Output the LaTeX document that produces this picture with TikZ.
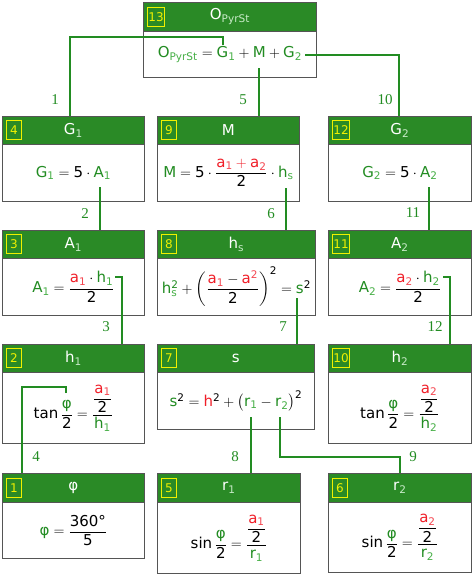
\documentclass[tikz,border=0pt]{standalone}
\usepackage{amsmath}
\usepackage{fontspec}
\setmainfont{DejaVu Sans}
\newfontfamily\lblfont{Liberation Serif}
\definecolor{hdrgreen}{RGB}{42,138,38}
\definecolor{lnGreen}{RGB}{34,140,34}
\definecolor{vgr}{RGB}{34,140,34}
\definecolor{vgrl}{RGB}{70,175,70}
\definecolor{vred}{RGB}{240,30,40}
\definecolor{vredl}{RGB}{245,70,80}
\definecolor{brd}{RGB}{85,85,85}
\definecolor{badgey}{RGB}{240,240,0}
\definecolor{hsub}{RGB}{200,235,200}
\newcommand{\vG}[1]{{\color{vgr}\text{#1}}}
\newcommand{\vR}[1]{{\color{vred}\text{#1}}}
\newcommand{\sG}[1]{{\color{vgrl}\text{#1}}}
\newcommand{\sR}[1]{{\color{vredl}\text{#1}}}
\newcommand{\tK}[1]{\text{#1}}
\newcommand{\hT}[2]{$\text{#1}_{\color{hsub}\text{#2}}$}
\newcommand{\fsz}{\fontsize{15}{18}\selectfont}
\tikzset{
  hdr/.style={draw=brd, line width=0.8pt, fill=hdrgreen, text=white, font=\fsz, inner sep=0pt},
  bodybox/.style={draw=brd, line width=0.8pt, fill=white, inner sep=0pt},
  badge/.style={draw=badgey, line width=0.9pt, text=badgey, font=\fontsize{12}{14}\selectfont, inner sep=1pt, minimum height=19pt, minimum width=15pt, xshift=4pt},
  formula/.style={font=\fsz, inner sep=0pt},
  conn/.style={draw=lnGreen, line width=1.6pt},
  lbl/.style={font=\fontsize{15}{18}\selectfont\lblfont, text=lnGreen, inner sep=0pt}
}
\newcommand{\mkbox}[9]{%
  \node[hdr, minimum width={#3-#2}, minimum height={#5-#4}, anchor=north west] (#1h) at (#2,#4) {#8};
  \node[bodybox, minimum width={#3-#2}, minimum height={#6-#5}, anchor=north west] (#1b) at (#2,#5) {};
  \node[badge, anchor=west] (#1n) at (#1h.west) {#7};
  \node[formula] (#1f) at (#1b.center) {#9};
}
\begin{document}
\begin{tikzpicture}[x=1pt,y=-1pt]
\useasboundingbox (0,0) rectangle (473,574);
% top
\mkbox{o}{143}{316}{2}{31}{77}{13}{\hT{O}{PyrSt}}{$\vG{O}_{\sG{PyrSt}} = \vG{G}_{\sG{1}} + \vG{M} + \vG{G}_{\sG{2}}$}
% row 1
\mkbox{g1}{2}{144}{116}{144}{201}{4}{\hT{G}{1}}{$\vG{G}_{\sG{1}} = \tK{5}\cdot\vG{A}_{\sG{1}}$}
\mkbox{m}{157}{299}{116}{144}{201}{9}{M}{$\vG{M} = \tK{5}\cdot\dfrac{\vR{a}_{\sR{1}} \mathbin{\color{vred}+} \vR{a}_{\sR{2}}}{\tK{2}}\cdot\vG{h}_{\sG{s}}$}
\mkbox{g2}{328}{471}{116}{144}{201}{12}{\hT{G}{2}}{$\vG{G}_{\sG{2}} = \tK{5}\cdot\vG{A}_{\sG{2}}$}
% row 2
\mkbox{a1}{2}{144}{230}{258}{315}{3}{\hT{A}{1}}{$\vG{A}_{\sG{1}} = \dfrac{\vR{a}_{\sR{1}}\cdot\vG{h}_{\sG{1}}}{\tK{2}}$}
\mkbox{hs}{157}{315}{230}{258}{315}{8}{\hT{h}{s}}{$\vG{h}_{\sG{s}}^{\vG{2}} + \left(\dfrac{\vR{a}_{\sR{1}} - \vR{a}^{\sR{2}}}{\tK{2}}\right)^{\tK{2}} = \vG{s}^{\tK{2}}$}
\mkbox{a2}{328}{471}{230}{258}{315}{11}{\hT{A}{2}}{$\vG{A}_{\sG{2}} = \dfrac{\vR{a}_{\sR{2}}\cdot\vG{h}_{\sG{2}}}{\tK{2}}$}
% row 3
\mkbox{h1}{2}{144}{344}{372}{443}{2}{\hT{h}{1}}{$\tK{tan}\,\dfrac{\vG{φ}}{\tK{2}} = \dfrac{\dfrac{\vR{a}_{\sR{1}}}{\tK{2}}}{\vG{h}_{\sG{1}}}$}
\mkbox{s}{157}{314}{344}{372}{429}{7}{s}{$\vG{s}^{\tK{2}} = \vR{h}^{\tK{2}} + \bigl(\vG{r}_{\sG{1}} - \vG{r}_{\sG{2}}\bigr)^{\tK{2}}$}
\mkbox{h2}{328}{471}{344}{372}{443}{10}{\hT{h}{2}}{$\tK{tan}\,\dfrac{\vG{φ}}{\tK{2}} = \dfrac{\dfrac{\vR{a}_{\sR{2}}}{\tK{2}}}{\vG{h}_{\sG{2}}}$}
% row 4
\mkbox{phi}{2}{144}{473}{502}{558}{1}{φ}{$\vG{φ} = \dfrac{\tK{360°}}{\tK{5}}$}
\mkbox{r1}{157}{300}{473}{502}{573}{5}{\hT{r}{1}}{$\tK{sin}\,\dfrac{\vG{φ}}{\tK{2}} = \dfrac{\dfrac{\vR{a}_{\sR{1}}}{\tK{2}}}{\vG{r}_{\sG{1}}}$}
\mkbox{r2}{328}{471}{473}{502}{572}{6}{\hT{r}{2}}{$\tK{sin}\,\dfrac{\vG{φ}}{\tK{2}} = \dfrac{\dfrac{\vR{a}_{\sR{2}}}{\tK{2}}}{\vG{r}_{\sG{2}}}$}
% connectors
\coordinate (s1) at (223,45); \coordinate (k1) at (70,37);
\draw[conn] (s1) |- (k1) -- (k1 |- g1h.north);
\coordinate (s5) at (259,68);
\draw[conn] (s5) -- (s5 |- mh.north);
\coordinate (s10) at (305,55); \coordinate (k10) at (399,55);
\draw[conn] (s10) -- (k10) -- (k10 |- g2h.north);
\coordinate (s2) at (100,187);
\draw[conn] (s2) -- (s2 |- a1h.north);
\coordinate (s6) at (286,188);
\draw[conn] (s6) -- (s6 |- hsh.north);
\coordinate (s11) at (429,187);
\draw[conn] (s11) -- (s11 |- a2h.north);
\coordinate (s3) at (115,277); \coordinate (k3) at (122,277);
\draw[conn] (s3) -- (k3) -- (k3 |- h1h.north);
\coordinate (s7) at (297,298);
\draw[conn] (s7) -- (s7 |- sh.north);
\coordinate (s12) at (443,277); \coordinate (k12) at (450,277);
\draw[conn] (s12) -- (k12) -- (k12 |- h2h.north);
\coordinate (s4) at (66,393); \coordinate (k4) at (22,387);
\draw[conn] (s4) |- (k4) -- (k4 |- phih.north);
\coordinate (s8) at (251,417);
\draw[conn] (s8) -- (s8 |- r1h.north);
\coordinate (s9) at (280,417); \coordinate (k9) at (400,457);
\draw[conn] (s9) |- (k9) -- (k9 |- r2h.north);
% labels
\node[lbl] (l1) at (55,100) {1};
\node[lbl] (l5) at (243,100) {5};
\node[lbl] (l10) at (385,100) {10};
\node[lbl] (l2) at (85,214) {2};
\node[lbl] (l6) at (271,214) {6};
\node[lbl] (l11) at (413,213) {11};
\node[lbl] (l3) at (106,327) {3};
\node[lbl] (l7) at (283,327) {7};
\node[lbl] (l12) at (435,327) {12};
\node[lbl] (l4) at (36,457) {4};
\node[lbl] (l8) at (235,457) {8};
\node[lbl] (l9) at (413,457) {9};
\end{tikzpicture}
\end{document}
